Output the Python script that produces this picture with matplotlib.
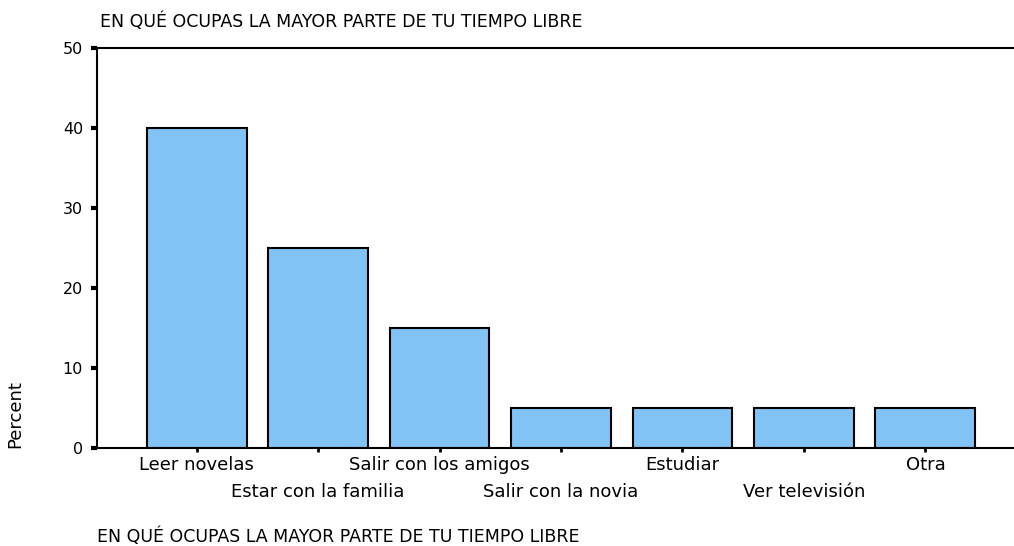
import matplotlib
matplotlib.use("Agg")
from matplotlib import pyplot as plt

# data
categories = ["Leer novelas", "Estar con la familia", "Salir con los amigos",
              "Salir con la novia", "Estudiar", "Ver televisión", "Otra"]
percent = [40, 25, 15, 5, 5, 5, 5]
y_ticks = [0, 10, 20, 30, 40, 50]
title = "EN QUÉ OCUPAS LA MAYOR PARTE DE TU TIEMPO LIBRE"

W, H = 1014, 546
fig = plt.figure(figsize=(W / 100, H / 100), dpi=100)
plt.rcParams["font.family"] = ["DejaVu Sans"]

# axes box runs a little past the right edge of the picture
ax = fig.add_axes([97 / W, 1 - 448 / H, (1025 - 97) / W, 400 / H])

x = list(range(len(categories)))
ax.bar(x, percent, width=0.823, color="#82C3F5", edgecolor="black", linewidth=1.5)

ax.set_xlim(-0.819, len(categories) - 1 + 0.819)
ax.set_ylim(0, 50)

for side in ["left", "top", "bottom", "right"]:
    ax.spines[side].set_linewidth(1.5)

ax.set_yticks(y_ticks)
ax.tick_params(axis="y", direction="out", length=4, width=3, pad=6, labelsize=11.5)

# staggered category labels: even ones on first row, odd ones on second row
ax.set_xticks(x[0::2], categories[0::2])
ax.set_xticks(x[1::2], categories[1::2], minor=True)
ax.tick_params(axis="x", which="both", direction="out", length=3, width=2, labelsize=13)
ax.tick_params(axis="x", which="major", pad=3)
ax.tick_params(axis="x", which="minor", pad=22)

ax.set_ylabel("Percent", loc="bottom", fontsize=13, labelpad=28)
ax.set_xlabel(title, loc="left", fontsize=12.5, labelpad=19)
fig.text(100 / W, 1 - 22 / H, title, fontsize=12.5, ha="left", va="center")

fig.savefig("out.png", dpi=100)
